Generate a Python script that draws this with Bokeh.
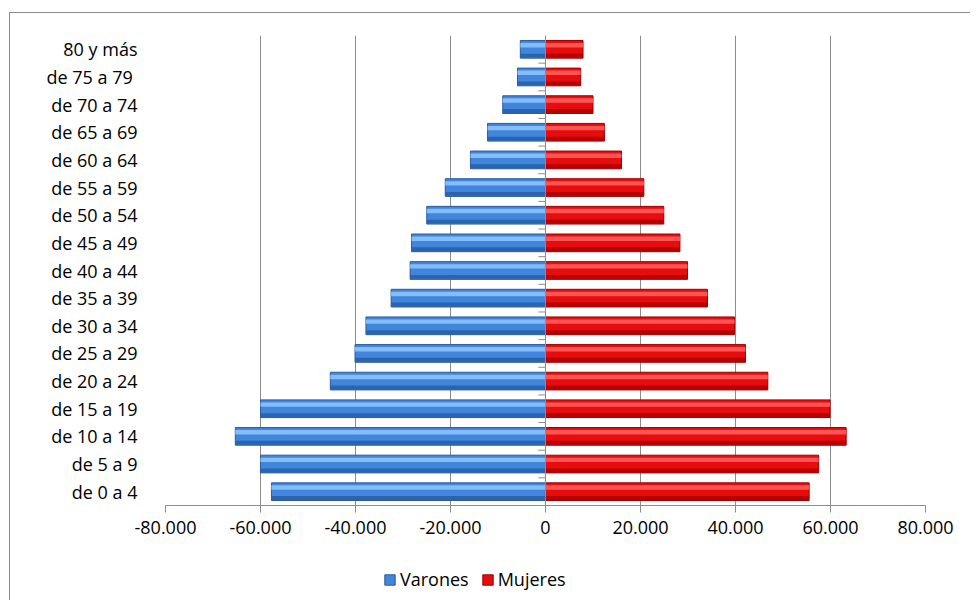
from bokeh.plotting import figure
from bokeh.layouts import column
from bokeh.models import (Range1d, FactorRange, FixedTicker, Legend, LegendItem, Span,
                          CustomJSTickFormatter, ColumnDataSource)
from bokeh.transform import dodge
from bokeh.embed import file_html
from bokeh.resources import INLINE

grupos = ["de 0 a 4", "de 5 a 9", "de 10 a 14", "de 15 a 19", "de 20 a 24", "de 25 a 29",
          "de 30 a 34", "de 35 a 39", "de 40 a 44", "de 45 a 49", "de 50 a 54", "de 55 a 59",
          "de 60 a 64", "de 65 a 69", "de 70 a 74", "de 75 a 79 ", "80 y más"]
varones = [57700, 60000, 65300, 60000, 45300, 40100, 37800, 32500, 28500, 28200, 25000, 21100,
           15800, 12200, 9000, 5900, 5300]
mujeres = [55500, 57500, 63300, 59900, 46800, 42100, 39800, 34100, 29900, 28300, 24900, 20700,
           16000, 12400, 10000, 7400, 7900]
x_ticks = [-80000, -60000, -40000, -20000, 0, 20000, 40000, 60000, 80000]
series = ["Varones", "Mujeres"]

FONT = "Open Sans"
BLUE, BLUE_HI, BLUE_LO, BLUE_LINE = "#4086dc", "#84bdf7", "#2d63ad", "#2a5b9c"
RED, RED_HI, RED_LO, RED_LINE = "#e50d0d", "#ff5454", "#b60000", "#9c0000"

p = figure(width=960, height=542, y_range=FactorRange(*grupos, range_padding=0),
           x_range=Range1d(-80000, 80000), output_backend="svg", toolbar_location=None,
           min_border_left=155, min_border_right=45, min_border_top=22, min_border_bottom=50)
p.outline_line_color = None
p.background_fill_color = "white"
p.border_fill_color = "white"

p.xaxis.ticker = FixedTicker(ticks=x_ticks)
p.xaxis.formatter = CustomJSTickFormatter(code="""
    const s = Math.abs(tick).toString().replace(/\\B(?=(\\d{3})+(?!\\d))/g, '.');
    return (tick < 0 ? '-' : '') + s;
""")
p.xaxis.axis_line_color = "#8c8c8c"
p.xaxis.major_tick_line_color = "#8c8c8c"
p.xaxis.major_tick_out = 7
p.xaxis.major_tick_in = 0
p.xaxis.minor_tick_line_color = None
p.xaxis.major_label_text_font = FONT
p.xaxis.major_label_text_font_size = "18px"
p.xaxis.major_label_text_color = "#000000"
p.xaxis.major_label_standoff = 8

p.yaxis.axis_line_color = None
p.yaxis.major_tick_line_color = None
p.yaxis.minor_tick_line_color = None
p.yaxis.major_label_text_font = FONT
p.yaxis.major_label_text_font_size = "18px"
p.yaxis.major_label_text_color = "#000000"
p.yaxis.major_label_standoff = 22

p.xgrid.ticker = FixedTicker(ticks=x_ticks)
p.xgrid.grid_line_color = "#8c8c8c"
p.ygrid.grid_line_color = None

neg = [-v for v in varones]
H = 0.64
sb = ColumnDataSource(dict(y=grupos, right=neg))
sr = ColumnDataSource(dict(y=grupos, right=mujeres))

# blue bars (Varones)
p.hbar(y="y", left=0, right="right", height=H, fill_color=BLUE,
       line_color=BLUE_LINE, line_width=1, source=sb)
p.hbar(y=dodge("y", 0.15, range=p.y_range), left=0, right="right", height=0.16,
       fill_color=BLUE_HI, line_color=None, source=sb)
p.hbar(y=dodge("y", -0.23, range=p.y_range), left=0, right="right", height=0.14,
       fill_color=BLUE_LO, line_color=None, source=sb)
# red bars (Mujeres)
p.hbar(y="y", left=0, right="right", height=H, fill_color=RED,
       line_color=RED_LINE, line_width=1, source=sr)
p.hbar(y=dodge("y", 0.15, range=p.y_range), left=0, right="right", height=0.16,
       fill_color=RED_HI, line_color=None, source=sr)
p.hbar(y=dodge("y", -0.23, range=p.y_range), left=0, right="right", height=0.14,
       fill_color=RED_LO, line_color=None, source=sr)

# vertical axis at zero with small ticks between categories
p.add_layout(Span(location=0, dimension="height", line_color="#8c8c8c", line_width=1))
st = ColumnDataSource(dict(y=grupos))
p.segment(x0=-1500, x1=0, y0=dodge("y", -0.5, range=p.y_range), y1=dodge("y", -0.5, range=p.y_range),
          line_color="#8c8c8c", source=st)

# legend strip below the chart (its swatch glyphs sit outside the visible range)
lg = figure(width=960, height=45, output_backend="svg", toolbar_location=None,
            x_range=Range1d(0, 1), y_range=Range1d(0, 1),
            min_border_left=155, min_border_right=45, min_border_top=0, min_border_bottom=0)
lg.axis.visible = False
lg.grid.visible = False
lg.outline_line_color = None
lg.border_fill_color = "white"
swatch = ColumnDataSource(dict(l=[5], r=[6], t=[6], b=[5]))
rb = lg.quad(left="l", right="r", top="t", bottom="b", fill_color=BLUE, line_color=BLUE_LINE, source=swatch)
rr = lg.quad(left="l", right="r", top="t", bottom="b", fill_color=RED, line_color=RED_LINE, source=swatch)
legend = Legend(items=[LegendItem(label=series[0], renderers=[rb]),
                       LegendItem(label=series[1], renderers=[rr])],
                orientation="horizontal", location=(218, 9),
                label_text_font=FONT, label_text_font_size="18px", label_text_color="#000000",
                glyph_width=13, glyph_height=13, spacing=12, label_standoff=4,
                border_line_color=None, background_fill_alpha=0, margin=0, padding=4)
lg.add_layout(legend, "center")

layout = column(p, lg, spacing=0)
layout.styles = {"border-left": "1px solid #8c8c8c", "border-top": "1px solid #8c8c8c",
                 "margin-left": "9px", "margin-top": "12px"}
open("out.html", "w").write(file_html(layout, INLINE))
